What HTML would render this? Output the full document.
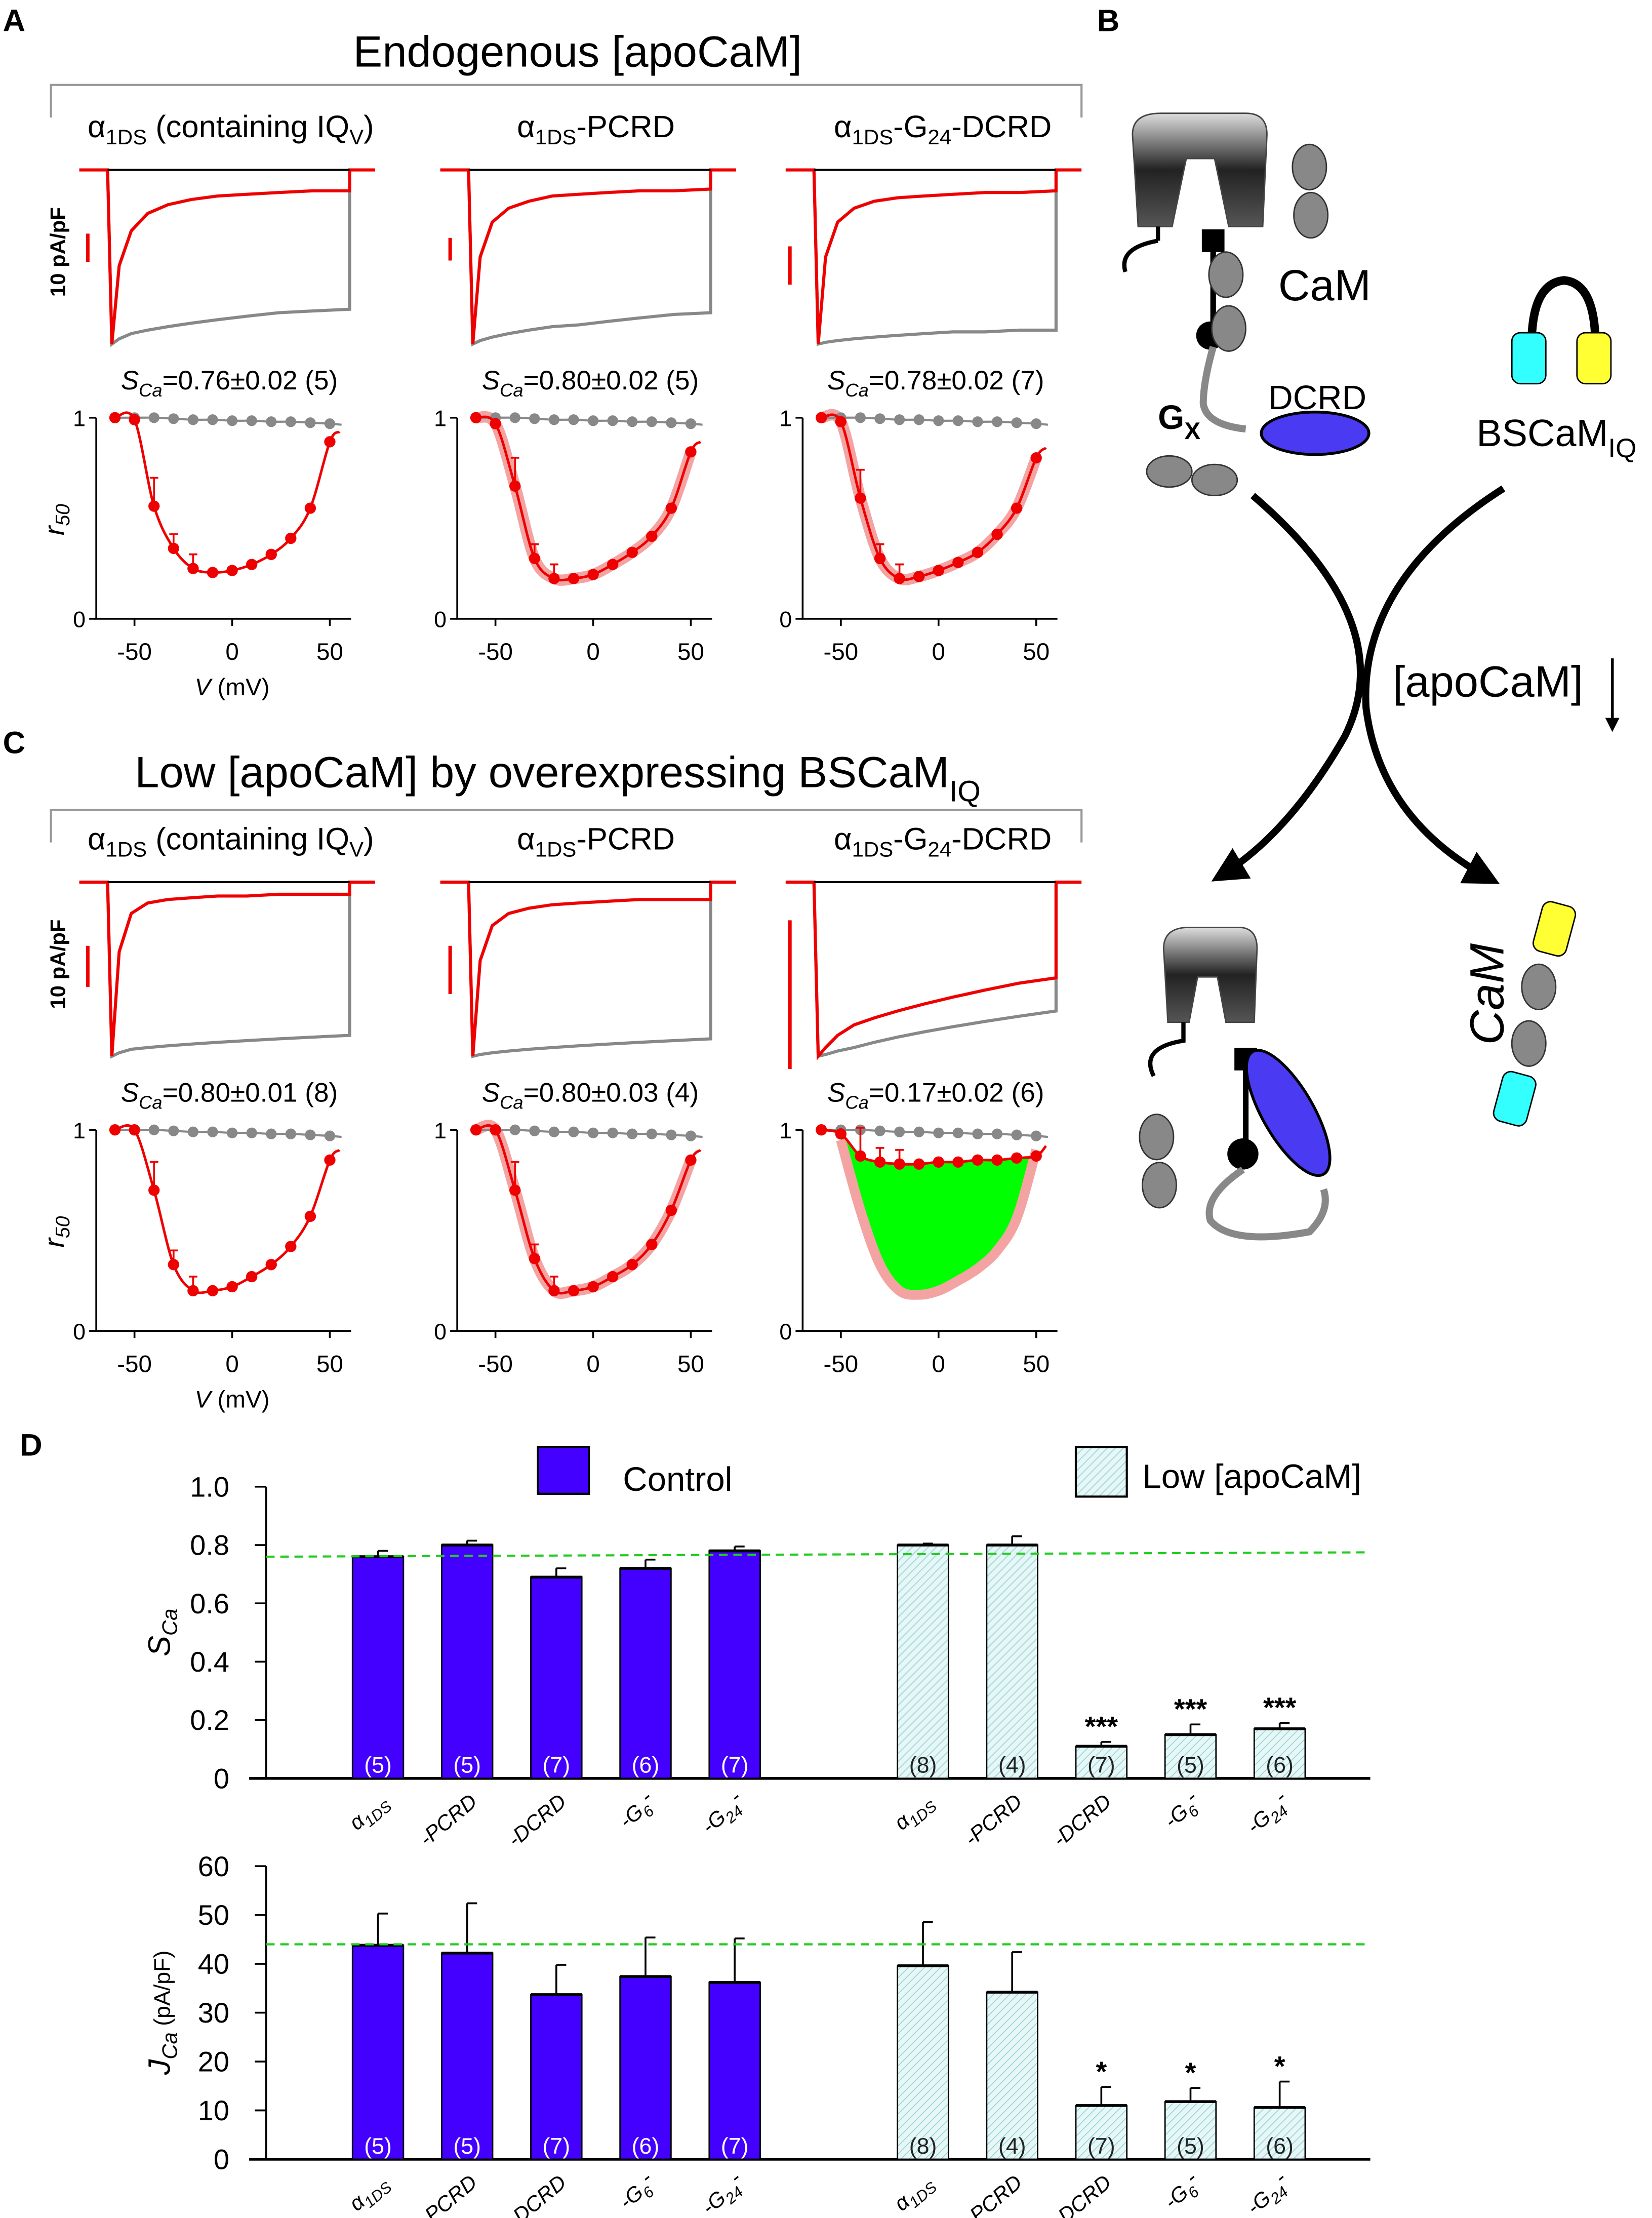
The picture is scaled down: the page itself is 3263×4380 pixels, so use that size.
<!DOCTYPE html>
<html><head><meta charset="utf-8">
<style>
html,body{margin:0;padding:0;background:#fff;}
svg{display:block;}
text{font-family:"Liberation Sans",sans-serif;}
.n{font-family:"Liberation Sans Narrow","Liberation Sans",sans-serif;}
.s{font-family:"Liberation Serif",serif;font-style:italic;}
</style></head>
<body>
<svg id="fig" xmlns="http://www.w3.org/2000/svg" width="3263" height="4380" viewBox="0 0 1167 1566.5">
<defs>
<pattern id="hatch" patternUnits="userSpaceOnUse" width="4" height="4" patternTransform="rotate(45)">
<rect width="4" height="4" fill="#e6f7f7"/><line x1="0" y1="0" x2="0" y2="4" stroke="#9fd3d3" stroke-width="1.2"/></pattern>
<linearGradient id="chg" x1="0" x2="0" y1="0" y2="1"><stop offset="0" stop-color="#ddd"/><stop offset="0.5" stop-color="#222"/><stop offset="1" stop-color="#555"/></linearGradient>
<marker id="ah" viewBox="0 0 10 10" refX="8" refY="5" markerWidth="5" markerHeight="5" orient="auto"><path d="M0,0 L10,5 L0,10 z" fill="#000"/></marker>
</defs>
<text x="2" y="22" font-size="22" font-weight="bold">A</text>
<text x="775" y="22" font-size="22" font-weight="bold">B</text>
<text x="2" y="532" font-size="22" font-weight="bold">C</text>
<text x="14" y="1028" font-size="22" font-weight="bold">D</text>

<text x="408" y="47" font-size="31" text-anchor="middle">Endogenous [apoCaM]</text>
<path d="M36,83 V60 H764 V83" fill="none" stroke="#999" stroke-width="1.5"/>
<text x="394" y="556" font-size="31" text-anchor="middle">Low [apoCaM] by overexpressing BSCaM<tspan font-size="21" dy="10">IQ</tspan></text>
<path d="M36,595 V572 H764 V595" fill="none" stroke="#999" stroke-width="1.5"/>

<g id="gA"></g><g id="gC"></g>

<g id="schem">
<path d="M800,95 Q800,80 820,80 L880,80 Q895,80 895,95 L892,160 L868,160 L858,112 L838,112 L828,160 L804,160 Z" fill="url(#chg)" stroke="#444"/>
<path d="M818,170 Q790,175 795,192" fill="none" stroke="#000" stroke-width="3"/>
<path d="M818,160 L818,170" stroke="#000" stroke-width="3"/>
<line x1="857" y1="170" x2="857" y2="235" stroke="#000" stroke-width="4"/>
<rect x="849" y="162" width="16" height="16" fill="#000"/>
<circle cx="855" cy="237" r="10" fill="#000"/>
<ellipse cx="866" cy="194" rx="12" ry="16" fill="#888" stroke="#333"/>
<ellipse cx="868" cy="232" rx="12" ry="16" fill="#888" stroke="#333"/>
<ellipse cx="925" cy="118" rx="12" ry="16" fill="#888" stroke="#333"/>
<ellipse cx="926" cy="152" rx="12" ry="16" fill="#888" stroke="#333"/>
<path d="M857,245 Q850,270 850,285 Q852,300 880,303" fill="none" stroke="#888" stroke-width="5"/>
<ellipse cx="929" cy="306" rx="38" ry="15" fill="#4a3bf2" stroke="#000" stroke-width="2"/>
<ellipse cx="826" cy="333" rx="16" ry="11" fill="#888" stroke="#333"/>
<ellipse cx="858" cy="339" rx="16" ry="11" fill="#888" stroke="#333"/>
<text x="903" y="212" font-size="31">CaM</text>
<text x="896" y="289" font-size="24">DCRD</text>
<text x="818" y="303" font-size="24" font-weight="bold">G<tspan font-size="17" dy="7">X</tspan></text>
<path d="M1082,240 Q1083,200 1105,198 Q1126,200 1127,240" fill="none" stroke="#000" stroke-width="6"/>
<rect x="1068" y="235" width="24" height="36" rx="6" fill="#3ff" stroke="#000"/>
<rect x="1114" y="235" width="24" height="36" rx="6" fill="#ff3" stroke="#000"/>
<text x="1043" y="315" font-size="27">BSCaM<tspan font-size="19" dy="8">IQ</tspan></text>
<path d="M885,350 Q990,440 950,520 Q910,590 860,620" fill="none" stroke="#000" stroke-width="5" marker-end="url(#ah)"/>
<path d="M1062,345 Q960,410 965,500 Q975,580 1055,622" fill="none" stroke="#000" stroke-width="5" marker-end="url(#ah)"/>
<text x="984" y="492" font-size="31">[apoCaM]</text>
<line x1="1139" y1="465" x2="1139" y2="515" stroke="#000" stroke-width="2" marker-end="url(#ah)"/>
<path d="M822,670 Q822,655 840,655 L875,655 Q888,655 888,670 L886,722 L866,722 L860,690 L846,690 L840,722 L825,722 Z" fill="url(#chg)" stroke="#444"/>
<path d="M836,722 L836,735 Q805,740 815,760" fill="none" stroke="#000" stroke-width="3"/>
<line x1="880" y1="740" x2="880" y2="815" stroke="#000" stroke-width="4"/>
<rect x="872" y="740" width="16" height="16" fill="#000"/>
<circle cx="878" cy="815" r="11" fill="#000"/>
<ellipse cx="910" cy="786" rx="18" ry="50" transform="rotate(-30 910 786)" fill="#4a3bf2" stroke="#000" stroke-width="2"/>
<path d="M878,826 Q850,845 855,862 Q870,880 925,870 Q940,855 935,840" fill="none" stroke="#888" stroke-width="5"/>
<ellipse cx="817" cy="803" rx="12" ry="16" fill="#888" stroke="#333"/>
<ellipse cx="819" cy="837" rx="12" ry="16" fill="#888" stroke="#333"/>
<rect x="1086" y="638" width="24" height="36" rx="6" transform="rotate(15 1098 656)" fill="#ff3" stroke="#000"/>
<ellipse cx="1087" cy="697" rx="12" ry="16" fill="#888" stroke="#333"/>
<ellipse cx="1080" cy="737" rx="12" ry="16" fill="#888" stroke="#333"/>
<rect x="1058" y="758" width="24" height="36" rx="6" transform="rotate(15 1070 776)" fill="#3ff" stroke="#000"/>
<text x="0" y="0" font-size="34" font-style="italic" transform="translate(1062,738) rotate(-90)">CaM</text>
</g>

<g id="gD"></g>
</svg>
<script>
var NS='http://www.w3.org/2000/svg';
function mk(parent,tag,attrs,txt){var e=document.createElementNS(NS,tag);for(var k in attrs)e.setAttribute(k,attrs[k]);if(txt!==undefined)e.textContent=txt;parent.appendChild(e);return e;}

var voltages=[-60,-50,-40,-30,-20,-10,0,10,20,30,40,50];
var grayR50=[1,1,1,0.995,0.99,0.99,0.985,0.985,0.98,0.98,0.975,0.97];
var a1Red=[1,0.99,0.56,0.35,0.25,0.23,0.24,0.27,0.32,0.4,0.55,0.88];
var a2Red=[1,0.97,0.66,0.3,0.2,0.2,0.22,0.27,0.33,0.41,0.55,0.83];
var a3Red=[1,0.98,0.6,0.3,0.2,0.21,0.24,0.28,0.33,0.42,0.55,0.8];
var c1Red=[1,1,0.7,0.33,0.2,0.2,0.22,0.27,0.33,0.42,0.57,0.85];
var c2Red=[1,1,0.7,0.36,0.2,0.2,0.22,0.27,0.33,0.43,0.6,0.85];
var c3Red=[1,0.98,0.87,0.84,0.83,0.83,0.84,0.84,0.85,0.85,0.86,0.87];
var c3Pink=[1,0.95,0.6,0.33,0.2,0.18,0.2,0.25,0.31,0.4,0.56,0.9];
var redTraceA=[[1,0.55,0.35,0.25,0.2,0.17,0.15,0.14,0.13,0.12,0.12],[1,0.5,0.3,0.22,0.18,0.15,0.14,0.13,0.12,0.12,0.11],[1,0.5,0.3,0.22,0.18,0.16,0.15,0.14,0.13,0.13,0.12]];
var grayTraceA=[[1,0.97,0.94,0.92,0.9,0.88,0.86,0.84,0.82,0.81,0.8],[1,0.98,0.96,0.94,0.92,0.9,0.89,0.87,0.85,0.83,0.82],[1,0.99,0.98,0.97,0.96,0.95,0.94,0.93,0.93,0.92,0.92]];
var redTraceC=[[1,0.4,0.18,0.12,0.1,0.09,0.08,0.08,0.07,0.07,0.07],[1,0.45,0.25,0.18,0.15,0.13,0.12,0.11,0.1,0.1,0.1],[1,0.95,0.88,0.82,0.78,0.74,0.7,0.66,0.62,0.58,0.55]];
var grayTraceC=[[1,0.98,0.96,0.95,0.94,0.93,0.92,0.91,0.9,0.89,0.88],[1,0.99,0.98,0.97,0.96,0.95,0.94,0.93,0.92,0.91,0.9],[1,0.99,0.97,0.95,0.92,0.89,0.86,0.83,0.8,0.77,0.74]];
var sTexts=[["0.76±0.02 (5)","0.80±0.02 (5)","0.78±0.02 (7)"],["0.80±0.01 (8)","0.80±0.03 (4)","0.17±0.02 (6)"]];
var scaleBars=[[[165,185],[168,184],[174,201]],[[668,697],[668,702],[650,755]]];

function smooth(pts){var d='M'+pts[0][0]+','+pts[0][1];for(var i=0;i<pts.length-1;i++){var p0=pts[i-1]||pts[i],p1=pts[i],p2=pts[i+1],p3=pts[i+2]||p2;d+=' C'+(p1[0]+(p2[0]-p0[0])/6)+','+(p1[1]+(p2[1]-p0[1])/6)+' '+(p2[0]-(p3[0]-p1[0])/6)+','+(p2[1]-(p3[1]-p1[1])/6)+' '+p2[0]+','+p2[1];}return d;}

function panelRow(g,dy,rowIdx,reds,pinks,redTr,grayTr,labels){
  var offs=[0,255,499];
  for(var p=0;p<3;p++){
    var ox=offs[p];
    var gp=mk(g,'g',{});
    
    
    var lab=mk(gp,'text',{x:[163,421,666][p],y:97+dy,'font-size':22,'text-anchor':'middle'});
    lab.innerHTML=labels[p];
    var xs=76+ox,xe=247+ox,base=120+dy,peak=243+dy;
    var tx=function(i,n){return xs+4+(xe-xs-4)*Math.pow(i/(n-1),1.6);};
    var ty=function(v){return base+(peak-base)*v;};
    var gt=grayTr[p],gd='M'+xs+','+base+' L'+(xs+3)+','+ty(1);
    for(var i=1;i<gt.length;i++)gd+=' L'+tx(i,gt.length)+','+ty(gt[i]);gd+=' L'+xe+','+base;
    var gl=mk(gp,'path',{d:gd,fill:'none',stroke:'#888','stroke-width':2.2});
    
    
    var rt=redTr[p],rd='M'+(xs-20)+','+base+' L'+xs+','+base+' L'+(xs+3)+','+ty(1);
    for(i=1;i<rt.length;i++)rd+=' L'+tx(i,rt.length)+','+ty(rt[i]);rd+=' L'+xe+','+base+' L'+(xe+18)+','+base;
    var rl=mk(gp,'path',{d:rd,fill:'none',stroke:'#e00','stroke-width':2.2});
    
    
    mk(gp,'line',{x1:xs,x2:xe,y1:base,y2:base,stroke:'#000','stroke-width':1.5});
    var sb=scaleBars[rowIdx][p];
    var bar=mk(gp,'line',{x1:[62,318,558][p],x2:[62,318,558][p],y1:sb[0],y2:sb[1],stroke:'#e00','stroke-width':2.5});
    
    
    var st=mk(gp,'text',{x:162+ox,y:275+dy,'font-size':19,'text-anchor':'middle','font-family':'Liberation Serif,serif'});
    st.innerHTML='<tspan font-style="italic">S</tspan><tspan font-style="italic" font-size="13" dy="5">Ca</tspan><tspan dy="-5">='+sTexts[rowIdx][p]+'</tspan>';
    var x0=164+ox,y1=295+dy,y0=437+dy;
    var X=function(v){return x0+v*1.38;},Y=function(r){return y0-(y0-y1)*r;};
    var ax=mk(gp,'path',{d:'M'+(68+ox)+','+y1+' V'+y0+' H'+(248+ox),fill:'none',stroke:'#000','stroke-width':1.3});
    
    
    mk(gp,'path',{d:'M'+(63+ox)+','+y1+' H'+(68+ox)+' M'+(63+ox)+','+y0+' H'+(68+ox)+' M'+X(-50)+','+y0+' v5 M'+X(0)+','+y0+' v5 M'+X(50)+','+y0+' v5',stroke:'#000','stroke-width':1.3});
    mk(gp,'text',{x:56+ox,y:y1+6,'font-size':16,'text-anchor':'middle'},'1');
    mk(gp,'text',{x:56+ox,y:y0+6,'font-size':16,'text-anchor':'middle'},'0');
    [-50,0,50].forEach(function(v){var t=mk(gp,'text',{x:X(v),y:y0+29,'font-size':17,'text-anchor':'middle'},String(v));});
    if(p===0){
      mk(gp,'text',{x:164,y:491+dy,'font-size':17,'text-anchor':'middle'}).innerHTML='<tspan font-style="italic">V</tspan> (mV)';
      var yl=mk(gp,'text',{transform:'translate(45,'+(367+dy)+') rotate(-90)','font-size':20,'text-anchor':'middle','font-family':'Liberation Serif,serif','font-style':'italic'});
      yl.innerHTML='r<tspan font-size="14" dy="4">50</tspan>';
      mk(gp,'text',{transform:'translate(46,'+(178+dy)+') rotate(-90)','font-size':15,'font-weight':'bold','text-anchor':'middle'},'10 pA/pF');
    }
    var red=reds[p];
    if(rowIdx===1&&p===2){
      var pk=c3Pink;var top=voltages.map(function(v,i){return [X(v),Y(red[i])];}).slice(1);
      var bot=voltages.map(function(v,i){return [X(v),Y(pk[i])];}).slice(1).reverse();
      var area=mk(gp,'path',{d:smooth(top)+' L'+bot[0][0]+','+bot[0][1]+smooth(bot).replace(/^M[^ ]+/,''),fill:'#0f0',stroke:'none'});
      
      
      var pl=mk(gp,'path',{d:smooth(bot.slice().reverse()),fill:'none',stroke:'#f4a3a3','stroke-width':7});
      
      
    } else if(pinks[p]){
      var pf=mk(gp,'path',{d:smooth(voltages.map(function(v,i){return [X(v),Y(red[i])];})),fill:'none',stroke:'#f4a3a3','stroke-width':8});
      
      
    }
    var gc=mk(gp,'path',{d:smooth(voltages.map(function(v,i){return [X(v),Y(grayR50[i])];}).concat([[X(56),Y(0.965)]])),fill:'none',stroke:'#888','stroke-width':1.5});
    
    
    voltages.forEach(function(v,i){var c=mk(gp,'circle',{cx:X(v),cy:Y(grayR50[i]),r:3.8,fill:'#888'});});
    var rc=mk(gp,'path',{d:smooth(voltages.map(function(v,i){return [X(v),Y(red[i])];}).concat([[X(55),Y(Math.min(1,red[11]+0.05))]])),fill:'none',stroke:'#e00','stroke-width':1.8});
    
    
    voltages.forEach(function(v,i){var c=mk(gp,'circle',{cx:X(v),cy:Y(red[i]),r:4,fill:'#e00'});
      if(i>=2&&i<=4)mk(gp,'path',{d:'M'+X(v)+','+Y(red[i])+' v-'+(i===2?20:10)+' m-3,0 h6',stroke:'#e00','stroke-width':1.3});});
  }
}
var lblsA=['α<tspan font-size="15" dy="5">1DS</tspan><tspan dy="-5"> (containing IQ</tspan><tspan font-size="15" dy="5">V</tspan><tspan dy="-5">)</tspan>','α<tspan font-size="15" dy="5">1DS</tspan><tspan dy="-5">-PCRD</tspan>','α<tspan font-size="15" dy="5">1DS</tspan><tspan dy="-5">-G</tspan><tspan font-size="15" dy="5">24</tspan><tspan dy="-5">-DCRD</tspan>'];
panelRow(document.getElementById('gA'),0,0,[a1Red,a2Red,a3Red],[false,true,true],redTraceA,grayTraceA,lblsA);
panelRow(document.getElementById('gC'),503,1,[c1Red,c2Red,c3Red],[false,true,true],redTraceC,grayTraceC,lblsA);

var barCats=['α1DS','-PCRD','-DCRD','-G6-','-G24-'];
var counts=[['(5)','(5)','(7)','(6)','(7)'],['(8)','(4)','(7)','(5)','(6)']];
var scaCtrl=[0.76,0.80,0.69,0.72,0.78];
var scaCtrlErr=[0.02,0.015,0.03,0.03,0.015];
var scaLow=[0.80,0.80,0.11,0.15,0.17];
var scaLowErr=[0.005,0.03,0.015,0.035,0.02];
var scaStars=['','','***','***','***'];
var jCtrl=[43.8,42.2,33.7,37.4,36.2];
var jCtrlErr=[6.5,10.2,6.1,8.0,9.0];
var jLow=[39.6,34.2,11.0,11.8,10.6];
var jLowErr=[9.0,8.2,3.8,2.8,5.3];
var jStars=['','','*','*','*'];
var scaTicks=['0','0.2','0.4','0.6','0.8','1.0'];
var jTicks=['0','10','20','30','40','50','60'];
var gD=document.getElementById('gD');
var ctrX=[267,330,393,456,519],lowX=[652,715,778,841,904];

function barChart(name,yTop,yBot,ymax,ticks,ctrl,ctrlErr,low,lowErr,stars,ref,ylabel){
  var g=mk(gD,'g',{});
  
  
  var Y=function(v){return yBot-(yBot-yTop)*v/ymax;};
  ticks.forEach(function(t,i){var v=ymax*i/(ticks.length-1);mk(g,'line',{x1:180,x2:188,y1:Y(v),y2:Y(v),stroke:'#000','stroke-width':1.3});
    var tl=mk(g,'text',{x:162,y:Y(v)+7,'font-size':20,'text-anchor':'end','class':'n'},t);});
  mk(g,'line',{x1:188,x2:188,y1:yTop,y2:yBot,stroke:'#000','stroke-width':1.3});
  mk(g,'line',{x1:176,x2:968,y1:yBot,y2:yBot,stroke:'#000','stroke-width':2});
  [[ctrl,ctrlErr,ctrX,'#4400ff','#fff','control'],[low,lowErr,lowX,'url(#hatch)','#222','low-apocam']].forEach(function(s,si){
    s[0].forEach(function(v,i){
      var x=s[2][i];
      mk(g,'line',{x1:x,x2:x,y1:Y(v),y2:Y(v+s[1][i]),stroke:'#000','stroke-width':1.3});
      mk(g,'line',{x1:x,x2:x+7,y1:Y(v+s[1][i]),y2:Y(v+s[1][i]),stroke:'#000','stroke-width':1.3});
      var b=mk(g,'rect',{x:x-18,y:Y(v),width:36,height:yBot-Y(v),fill:s[3],stroke:'#000','stroke-width':1});
      
      
      mk(g,'line',{x1:x-18,x2:x+18,y1:Y(v),y2:Y(v),stroke:'#000','stroke-width':2});
      mk(g,'text',{x:x,y:yBot-4,'font-size':16,'text-anchor':'middle',fill:s[4]},counts[si][i]);
      if(si===1&&stars[i]){var st=mk(g,'text',{x:x,y:Y(v+s[1][i])-4,'font-size':20,'font-weight':'bold','text-anchor':'middle'},stars[i]);}
      var lb=mk(g,'text',{transform:'translate('+(x+8)+','+(yBot+18)+') rotate(-40)','font-size':15,'text-anchor':'end','font-style':'italic'});
      lb.innerHTML=['α<tspan font-size="11" dy="4">1DS</tspan>','-PCRD','-DCRD','-G<tspan font-size="11" dy="4">6</tspan><tspan dy="-8">-</tspan>','-G<tspan font-size="11" dy="4">24</tspan><tspan dy="-8">-</tspan>'][i];
      
      
    });
  });
  var dl=mk(g,'line',{x1:188,x2:968,y1:Y(ref[0]),y2:Y(ref[1]),stroke:'#22cc22','stroke-width':1.5,'stroke-dasharray':'6,4'});
  
  
  var yl=mk(g,'text',{transform:'translate(120,'+((yTop+yBot)/2)+') rotate(-90)','font-size':22,'text-anchor':'middle','font-family':'Liberation Serif,serif'});
  yl.innerHTML=ylabel;
  
  
}
barChart('sca-bar-chart',1050,1256,1.0,scaTicks,scaCtrl,scaCtrlErr,scaLow,scaLowErr,scaStars,[0.76,0.775],'<tspan font-style="italic">S</tspan><tspan font-style="italic" font-size="15" dy="5">Ca</tspan>');
barChart('jca-bar-chart',1318,1525,60,jTicks,jCtrl,jCtrlErr,jLow,jLowErr,jStars,[44,44],'<tspan font-style="italic">J</tspan><tspan font-style="italic" font-size="15" dy="5">Ca</tspan><tspan font-size="16" dy="-5"> (pA/pF)</tspan>');
var lg=mk(gD,'g',{});


mk(lg,'rect',{x:380,y:1022,width:36,height:33,fill:'#4400ff',stroke:'#000','stroke-width':1.5});
mk(lg,'text',{x:440,y:1053,'font-size':24},'Control');
mk(lg,'rect',{x:760,y:1022,width:36,height:35,fill:'url(#hatch)',stroke:'#000','stroke-width':1.5});
mk(lg,'text',{x:807,y:1051,'font-size':24},'Low [apoCaM]');
</script>
</body></html>
